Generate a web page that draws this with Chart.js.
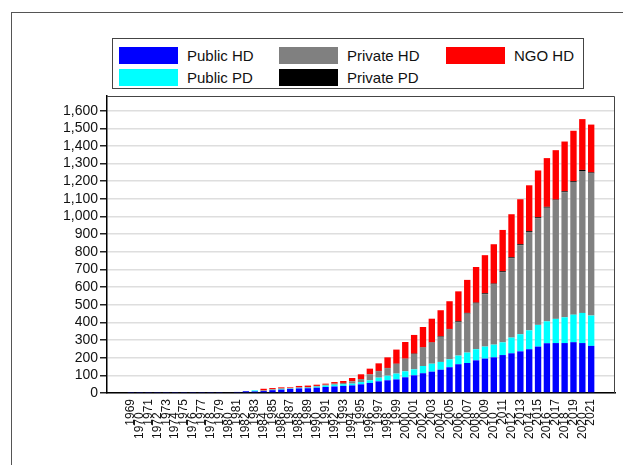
<!DOCTYPE html>
<html>
<head>
<meta charset="utf-8">
<script src="https://cdn.jsdelivr.net/npm/chart.js@4.4.1/dist/chart.umd.min.js"></script>
<style>
    html, body { margin: 0; padding: 0; background: #fff; overflow: hidden; }
    #wrap { position: relative; width: 623px; height: 465px; font-family: 'Liberation Sans', Arial, sans-serif; }
    #frame { position: absolute; left: 11px; top: 12px; width: 640px; height: 480px; border: 1.5px solid #555; box-sizing: border-box; }
    #legend {
        position: absolute; left: 112px; top: 38px; width: 472px; height: 51px;
        border: 1.5px solid #444; box-sizing: border-box; background: #fff;
        display: grid; grid-auto-flow: column; grid-template-rows: 22px 22px;
        grid-template-columns: 160px 167px auto; padding: 5px 0 0 6px;
    }
    .item { display: flex; align-items: center; font-size: 15px; color: #111; }
    .swatch { width: 59px; height: 17px; margin-right: 9px; }
    #chart-box { position: absolute; left: 0; top: 0; width: 623px; height: 465px; }
</style>
</head>
<body>
<div id="wrap">
    <div id="frame"></div>
    <div id="chart-box"><canvas id="dialysis-chart"></canvas></div>
    <div id="legend"></div>
</div>
<script>
// Years on the x axis
const years = [];
for (let y = 1969; y <= 2021; y++) years.push(y);

// Series values (stacked bottom to top)
const publicHD = [
    3, 3, 3, 3, 3, 3, 3, 3, 3, 3, 3,
    4, 6, 10, 9, 11, 16, 19, 23, 26, 27, 30, 34, 37, 40, 43, 49, 57, 66, 72, 77,
    89, 100, 112, 121, 132, 146, 163, 170, 185, 195, 202, 215, 225, 236, 248, 263,
    282, 283, 283, 288, 283, 267
];
const publicPD = [
    0, 0, 0, 0, 0, 0, 0, 0, 0, 0, 0,
    0, 0, 0, 6, 1, 2, 4, 2, 3, 3, 6, 8, 10, 9, 10, 13, 15, 21, 26, 33,
    34, 34, 41, 45, 44, 45, 49, 59, 63, 68, 72, 72, 89, 97, 107, 123,
    124, 137, 146, 156, 171, 172
];
const privateHD = [
    0, 0, 0, 0, 0, 0, 0, 0, 0, 0, 0,
    0, 0, 0, 0, 2, 3, 3, 3, 3, 4, 4, 5, 6, 8, 13, 17, 33, 37, 43, 55,
    71, 87, 104, 119, 142, 169, 190, 221, 259, 297, 341, 398, 450, 505, 557, 605,
    644, 671, 709, 751, 804, 805
];
const privatePD = [
    0, 0, 0, 0, 0, 0, 0, 0, 0, 0, 0,
    0, 0, 0, 0, 0, 0, 0, 0, 0, 0, 0, 0, 0, 0, 0, 0, 1, 1, 1, 1,
    1, 2, 2, 2, 3, 3, 4, 4, 5, 5, 5, 5, 5, 5, 5, 5,
    5, 5, 5, 5, 6, 6
];
const ngoHD = [
    0, 0, 0, 0, 0, 0, 0, 0, 0, 0, 0,
    0, 0, 0, 0, 10, 7, 6, 4, 8, 8, 7, 6, 9, 11, 19, 27, 32, 43, 60, 80,
    94, 106, 115, 134, 148, 157, 170, 187, 202, 216, 223, 234, 244, 255, 260, 265,
    276, 280, 282, 286, 288, 271
];

// Y axis ticks
const yTicks = [0, 100, 200, 300, 400, 500, 600, 700, 800, 900, 1000, 1100, 1200, 1300, 1400, 1500, 1600];

const seriesNames = ['Public HD', 'Public PD', 'Private HD', 'Private PD', 'NGO HD'];
const seriesColors = ['#0000ff', '#00ffff', '#808080', '#000000', '#ff0000'];
const seriesValues = [publicHD, publicPD, privateHD, privatePD, ngoHD];

function toPoints(values) {
    return years.map((yr, i) => ({ x: yr, y: values[i] }));
}

// Outline of the plot region
const plotFrame = {
    id: 'plotFrame',
    afterDraw(chart) {
        const { ctx, chartArea: a } = chart;
        ctx.save();
        ctx.strokeStyle = '#444';
        ctx.lineWidth = 1;
        ctx.beginPath();
        ctx.moveTo(a.left, a.top + 0.5);
        ctx.lineTo(a.right - 0.5, a.top + 0.5);
        ctx.lineTo(a.right - 0.5, a.bottom);
        ctx.stroke();
        ctx.restore();
    }
};

const ctx = document.getElementById('dialysis-chart');
const chart = new Chart(ctx, {
    type: 'bar',
    data: {
        datasets: seriesNames.map((name, i) => ({
            label: name,
            data: toPoints(seriesValues[i]),
            backgroundColor: seriesColors[i],
            borderWidth: 0,
            categoryPercentage: 1,
            barPercentage: 0.72
        }))
    },
    options: {
        responsive: true,
        maintainAspectRatio: false,
        animation: false,
        layout: { padding: { top: 96, right: 8, left: 0, bottom: 0 } },
        plugins: {
            legend: { display: false },
            tooltip: { enabled: false }
        },
        scales: {
            x: {
                type: 'linear',
                stacked: true,
                min: 1966.85,
                max: 2023.15,
                afterBuildTicks(scale) {
                    scale.ticks = years.map(v => ({ value: v }));
                },
                afterFit(scale) { scale.height = 72; },
                grid: { display: false, drawTicks: false },
                border: { display: true, color: '#000', width: 1.5 },
                ticks: {
                    autoSkip: false,
                    minRotation: 90,
                    maxRotation: 90,
                    padding: 6,
                    color: '#111',
                    font: { family: "'Liberation Sans', Arial, sans-serif", size: 12 },
                    // even years sit one step lower, as in the original
                    callback: v => (v % 2 === 0 ? String(v) + '    ' : String(v))
                }
            },
            y: {
                stacked: true,
                min: 0,
                max: 1683,
                afterBuildTicks(scale) {
                    scale.ticks = yTicks.map(v => ({ value: v }));
                },
                afterFit(scale) { scale.width = 107; },
                grid: {
                    color: '#dedede',
                    lineWidth: 1.5,
                    tickColor: '#222',
                    tickLength: 7,
                    drawTicks: true
                },
                border: { display: true, color: '#000', width: 1.5 },
                ticks: {
                    autoSkip: false,
                    padding: 2,
                    color: '#111',
                    font: { family: "'Liberation Sans', Arial, sans-serif", size: 14 },
                    callback: v => v.toLocaleString('en-US')
                }
            }
        }
    },
    plugins: [plotFrame]
});

// Legend: two rows, filled column by column
const legend = document.getElementById('legend');
legend.innerHTML = seriesNames.map((name, i) => `
    <div class="item"><span class="swatch" style="background:${seriesColors[i]}"></span>${name}</div>
`).join('');
</script>
</body>
</html>
